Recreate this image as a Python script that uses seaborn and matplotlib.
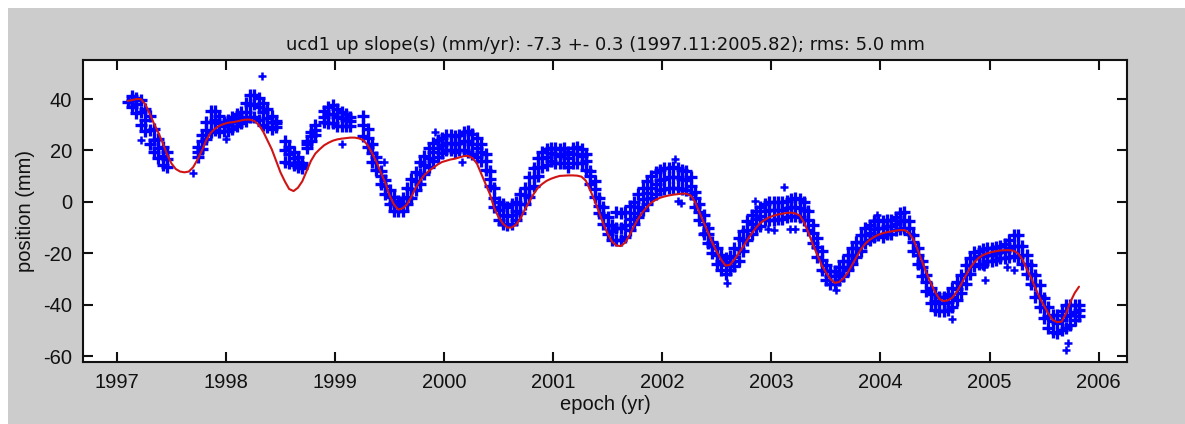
import numpy as np
import pandas as pd
import matplotlib
matplotlib.use("Agg")
import matplotlib.pyplot as plt
import seaborn as sns
from matplotlib.patches import Rectangle

nan = float("nan")

# ---------------- data ----------------
# sampling epochs: every 0.04 yr starting at 1997.10
start_epoch = 1997.10
step_yr = 0.04

# red model curve (mm)
model_mm = (
    [39.3, 39.6, 40.0, 40.0, 38.0, 34.5, 30.5, 27.0, 23.0, 18.5, 15.0, 12.8, 11.8, 11.5, 11.8,
     13.5, 16.5, 20.0, 24.0, 26.8, 28.5, 29.6, 30.3]
    + [30.8, 31.0, 31.3, 31.7, 32.0, 32.0, 31.5, 30.0, 27.5, 24.0, 20.5, 16.0, 11.5, 8.0, 5.0,
       4.2, 5.5, 8.0, 12.0, 16.0, 18.8, 20.5, 22.0, 23.0, 23.8]
    + [24.3, 24.6, 24.8, 25.0, 25.0, 24.7, 24.0, 22.0, 19.0, 15.5, 11.5, 7.5, 2.5, -1.0, -3.0,
       -2.5, -1.0, 2.0, 5.5, 8.2, 10.5, 12.0, 13.3, 14.5, 15.5]
    + [16.0, 16.5, 16.8, 17.3, 17.8, 17.9, 17.0, 15.0, 11.0, 7.0, 3.0, -2.5, -6.0, -8.5, -10.0,
       -10.0, -8.8, -6.5, -3.0, 0.0, 3.0, 5.5, 7.0, 8.2, 9.0]
    + [9.6, 10.1, 10.2, 10.3, 10.3, 10.2, 9.8, 8.2, 4.5, 0.5, -4.0, -8.5, -12.5, -15.5, -17.0,
       -17.2, -15.8, -13.0, -9.5, -6.5, -4.0, -2.0, -0.3, 0.8, 1.6]
    + [2.1, 2.5, 2.8, 3.0, 3.2, 3.2, 2.5, 0.0, -4.0, -8.0, -12.0, -16.0, -19.5, -22.5, -24.8,
       -24.5, -22.5, -20.0, -17.5, -14.8, -12.3, -10.0, -8.2, -7.0, -6.0]
    + [-5.4, -4.9, -4.6, -4.3, -4.2, -4.5, -5.3, -8.0, -12.0, -16.5, -20.5, -24.5, -27.5, -30.0, -31.5,
       -31.2, -29.8, -27.5, -24.5, -21.5, -18.5, -16.3, -14.8, -13.7, -12.8]
    + [-12.2, -11.8, -11.5, -11.2, -11.0, -11.0, -12.0, -14.5, -18.5, -23.0, -27.5, -31.5, -35.0, -37.8, -38.6,
       -38.3, -37.2, -35.0, -32.0, -28.8, -25.8, -23.5, -21.8, -20.7, -20.0]
    + [-19.5, -19.2, -18.9, -18.8, -18.8, -19.0, -20.0, -22.3, -26.0, -29.5, -33.5, -37.3, -40.5, -43.5, -46.0,
       -46.8, -46.6, -43.5, -39.0, -35.5, -33.0]
)

# blue observations: lower edge, centre and upper edge of the point cloud (mm)
obs_lo = (
    [nan, 37.0, 34.5, 30.0, 27.5, 22.5, 19.5, 17.0, 14.5, 13.5, nan, nan, nan, nan, nan,
     nan, 17.5, 20.5, 24.5, 27.0, 28.0, 27.0, 27.5]
    + [27.5, 28.5, 29.5, 30.5, 31.5, 33.0, 33.0, 32.0, 30.0, 29.0, 28.5, 29.0, nan, 15.5, 15.0,
       14.5, 13.5, 13.0, 21.0, 23.5, 26.0, nan, 31.0, 30.5, 30.5]
    + [29.5, 29.5, 29.5, 29.5, nan, nan, 25.5, 21.5, 15.5, 12.5, 7.0, 3.0, -1.0, -3.5, -3.5,
       -3.5, -1.0, 1.5, 4.5, 7.0, 11.0, 13.5, 16.0, 17.5, 19.0]
    + [20.0, 20.0, 19.5, 20.0, 20.0, 19.5, 18.5, 17.5, 16.0, 12.5, 6.0, -2.0, -7.0, -8.5, -9.0,
       -8.5, -7.0, -4.5, -1.0, 2.0, 6.0, 10.0, 13.5, 14.5, 16.0]
    + [15.0, 15.0, 15.0, 13.5, 15.0, 15.0, 15.0, 12.5, 7.0, 2.0, -4.5, -8.5, -12.5, -15.0, -15.0,
       -15.0, -13.5, -11.0, -8.5, -6.0, -3.0, -1.0, 1.5, 3.0, 4.5]
    + [5.0, 5.5, 5.5, 5.5, 5.0, 4.5, 3.0, -2.0, -7.0, -12.5, -16.0, -20.0, -24.0, -26.5, -28.0,
       -26.5, -25.0, -23.0, -19.0, -15.0, -12.5, -10.0, -9.5, -7.0, -7.0]
    + [-7.0, -6.5, -6.5, -6.0, -5.5, -5.5, -6.0, -7.0, -11.0, -16.0, -21.5, -26.5, -30.5, -32.0, -32.0,
       -30.5, -29.0, -26.5, -24.0, -21.5, -19.0, -16.0, -15.0, -13.5, -13.0]
    + [-13.5, -12.5, -12.5, -11.0, -10.5, -10.0, -12.5, -19.0, -24.0, -29.0, -34.5, -39.5, -42.0, -42.5, -42.5,
       -42.0, -41.0, -38.0, -35.5, -32.0, -28.0, -25.0, -24.0, -24.0, -23.0]
    + [-23.0, -22.5, -22.0, -22.0, -21.5, -21.0, -21.5, -24.0, -28.0, -32.0, -37.0, -41.0, -45.0, -49.0, -50.5,
       -51.0, -50.0, -49.0, -48.0, -46.0, -44.5]
)
obs_mid = (
    [39.0, 39.5, 38.0, 35.0, 32.0, 28.0, 24.0, 21.0, 18.0, 16.5, nan, nan, nan, nan, nan,
     nan, 19.5, 23.5, 28.0, 31.0, 32.0, 30.5, 29.5]
    + [30.0, 31.0, 32.0, 33.0, 35.0, 37.5, 38.0, 37.0, 35.0, 32.5, 31.0, 30.5, nan, 20.0, 18.5,
       17.0, 15.5, 14.0, 22.5, 25.5, 28.0, nan, 33.0, 34.0, 34.0]
    + [33.0, 32.5, 32.0, 31.5, nan, nan, 30.0, 25.0, 19.0, 15.5, 10.0, 6.0, 2.0, -0.5, -1.5,
       -1.0, 2.0, 5.0, 8.0, 11.0, 14.5, 17.0, 19.5, 21.0, 22.0]
    + [23.0, 23.0, 22.5, 23.0, 23.5, 23.5, 22.5, 21.0, 19.5, 16.0, 9.0, 1.5, -3.0, -5.0, -5.5,
       -5.0, -3.5, -1.0, 2.5, 5.5, 9.5, 13.5, 17.0, 17.5, 19.0]
    + [18.5, 18.0, 18.5, 17.0, 18.5, 18.5, 18.0, 16.0, 10.0, 5.0, -1.5, -5.0, -9.0, -11.5, -10.0,
       -10.0, -9.0, -6.5, -4.5, -2.0, 1.0, 3.5, 5.5, 7.0, 8.5]
    + [9.0, 9.5, 9.5, 9.5, 9.0, 8.5, 6.0, 1.5, -4.0, -8.5, -12.5, -17.0, -20.5, -23.0, -24.5,
       -23.5, -21.5, -18.5, -15.0, -11.0, -8.5, -6.5, -5.5, -3.5, -3.0]
    + [-3.0, -3.0, -3.0, -2.5, -2.0, -2.0, -2.5, -3.0, -7.0, -12.0, -17.5, -22.5, -27.0, -29.0, -29.0,
       -27.5, -25.5, -23.0, -20.5, -18.0, -15.5, -13.0, -12.0, -10.5, -10.0]
    + [-10.0, -9.5, -9.5, -8.5, -7.5, -7.0, -10.0, -15.5, -20.5, -25.5, -31.0, -36.0, -38.5, -39.5, -39.5,
       -39.0, -37.0, -34.0, -31.5, -28.0, -24.5, -22.0, -21.0, -21.0, -20.5]
    + [-20.5, -20.0, -19.5, -19.0, -18.0, -17.0, -17.0, -20.5, -24.0, -28.0, -32.5, -36.5, -41.0, -44.5, -46.5,
       -47.0, -46.0, -44.5, -44.0, -43.0, -42.0]
)
obs_hi = (
    [nan, 41.0, 40.5, 39.5, 36.0, 33.5, 28.5, 24.5, 21.5, 19.5, nan, nan, nan, nan, nan,
     nan, 21.5, 26.0, 31.0, 35.5, 35.5, 33.5, 31.0]
    + [32.0, 33.0, 34.0, 35.0, 38.5, 41.5, 41.5, 40.5, 38.5, 36.0, 33.5, 31.5, nan, 23.5, 21.5,
       19.5, 17.5, 15.0, 23.5, 27.0, 30.0, nan, 35.5, 37.0, 37.5]
    + [36.0, 35.0, 34.0, 33.0, nan, nan, 33.5, 28.5, 22.5, 17.5, 12.0, 8.5, 4.5, 2.0, 0.5,
       1.5, 5.5, 9.0, 11.5, 15.5, 18.0, 21.0, 23.0, 24.0, 25.0]
    + [26.0, 26.0, 25.5, 26.0, 27.0, 27.5, 26.5, 25.0, 22.5, 18.5, 12.0, 5.5, 0.0, -1.0, -2.0,
       -1.0, 0.0, 3.0, 5.5, 9.5, 13.0, 17.0, 19.5, 20.5, 21.0]
    + [21.0, 20.5, 21.0, 19.5, 21.0, 21.5, 20.5, 18.5, 12.0, 8.0, 1.5, -2.0, -6.0, -9.0, -4.0,
       -4.5, -4.0, -1.5, 0.0, 3.0, 5.5, 8.0, 10.0, 11.5, 12.5]
    + [13.0, 13.0, 13.5, 13.0, 12.5, 12.0, 9.5, 4.0, -1.0, -5.0, -10.0, -15.5, -18.0, -20.5, -22.0,
       -21.0, -18.0, -14.0, -11.5, -7.5, -5.0, -3.5, -2.0, -1.0, 0.0]
    + [0.0, 0.0, 0.0, 0.5, 1.0, 1.5, 1.0, 0.0, -3.5, -9.0, -14.0, -19.0, -24.5, -27.0, -27.0,
       -25.5, -23.0, -20.5, -18.0, -15.5, -13.0, -10.0, -9.0, -7.5, -7.0]
    + [-7.5, -7.0, -7.0, -6.0, -4.5, -4.0, -7.5, -13.0, -18.0, -23.0, -28.5, -33.5, -36.0, -37.0, -37.0,
       -36.0, -33.5, -31.0, -28.5, -24.5, -22.0, -19.5, -19.0, -18.5, -18.0]
    + [-18.0, -17.5, -17.0, -16.5, -15.0, -13.0, -13.0, -17.0, -20.5, -24.5, -28.5, -32.5, -37.5, -41.0, -44.0,
       -44.0, -42.5, -40.0, -40.0, -40.0, -40.0]
)

# isolated points away from the main cloud
outlier_epoch = [1997.22, 1997.70, 1998.005, 1998.33, 1999.06, 1999.45, 1999.92, 2000.16,
                 2002.12, 2002.14, 2002.17, 2002.37, 2002.59, 2002.85, 2002.97, 2003.02,
                 2003.12, 2003.17, 2003.22, 2003.59, 2003.97, 2004.66, 2004.95, 2004.96,
                 2005.16, 2005.22, 2005.70, 2005.72]
outlier_mm = [24.0, 11.4, 24.5, 49.0, 22.4, 15.5, 27.0, 15.7,
              16.7, 0.5, -0.5, -12.0, -31.7, 0.4, -10.5, -11.0,
              5.6, -10.5, -10.5, -34.4, -5.0, -45.5, -25.5, -30.5,
              -25.5, -26.5, -57.6, -55.0]

x_ticks = [1997, 1998, 1999, 2000, 2001, 2002, 2003, 2004, 2005, 2006]
y_ticks = [-60, -40, -20, 0, 20, 40]
title_text = "ucd1 up slope(s) (mm/yr): -7.3 +- 0.3 (1997.11:2005.82); rms: 5.0 mm"
x_label = "epoch (yr)"
y_label = "position (mm)"

assert len(model_mm) == len(obs_lo) == len(obs_mid) == len(obs_hi)

epochs = start_epoch + step_yr * np.arange(len(model_mm))

band_df = pd.concat(
    [pd.DataFrame({"epoch": epochs, "mm": obs_lo}),
     pd.DataFrame({"epoch": epochs, "mm": obs_hi}),
     pd.DataFrame({"epoch": epochs, "mm": obs_mid})],
    ignore_index=True).dropna()
outlier_df = pd.DataFrame({"epoch": outlier_epoch, "mm": outlier_mm})
model_df = pd.DataFrame({"epoch": epochs, "mm": model_mm})

# ---------------- styling ----------------
sns.set_theme(style="ticks")
plt.rcParams["font.family"] = ["Liberation Sans", "DejaVu Sans"]
plt.rcParams["axes.linewidth"] = 1.5

W, H = 1185, 424
fig = plt.figure(figsize=(W / 100, H / 100), dpi=100, facecolor="white")
fig.patches.append(Rectangle((8 / W, 0), 1 - 8 / W, 1 - 8 / H, transform=fig.transFigure,
                             facecolor="#cccccc", edgecolor="none", zorder=-10))
ax = fig.add_axes([83 / W, 1 - 362 / H, (1127 - 83) / W, (362 - 60) / H])
ax.set_facecolor("white")

blue = "#0000ff"
# dense cloud: big thick plus markers so neighbouring points merge into a band
sns.scatterplot(data=band_df, x="epoch", y="mm", marker="+", color=blue,
                s=75, linewidth=2.4, ax=ax, zorder=2, legend=False)
sns.scatterplot(data=outlier_df, x="epoch", y="mm", marker="+", color=blue,
                s=34, linewidth=1.8, ax=ax, zorder=2, legend=False)
sns.lineplot(data=model_df, x="epoch", y="mm", color="#d01414", linewidth=1.5,
             estimator=None, sort=False, ax=ax, zorder=3, legend=False)

ax.set_xlim(1996.69, 2006.26)
ax.set_ylim(-62.3, 55.2)
ax.set_xticks(x_ticks)
ax.set_yticks(y_ticks)
ax.set_xticklabels([str(v) for v in x_ticks])
ax.set_yticklabels([str(v) for v in y_ticks])
ax.tick_params(direction="in", length=7, width=1.5, top=True, right=True,
               labeltop=False, labelright=False, labelsize=14.5, pad=8,
               color="#111111", labelcolor="#111111")
for sp in ax.spines.values():
    sp.set_visible(True)
    sp.set_color("#111111")
    sp.set_linewidth(1.5)

ax.set_title(title_text, fontsize=13, pad=7, color="#111111",
             family=["DejaVu Sans"])
ax.set_xlabel(x_label, fontsize=14.5, labelpad=2, color="#111111")
ax.set_ylabel(y_label, fontsize=14.5, labelpad=6, color="#111111")

fig.savefig("out.png", dpi=100, facecolor=fig.get_facecolor())
